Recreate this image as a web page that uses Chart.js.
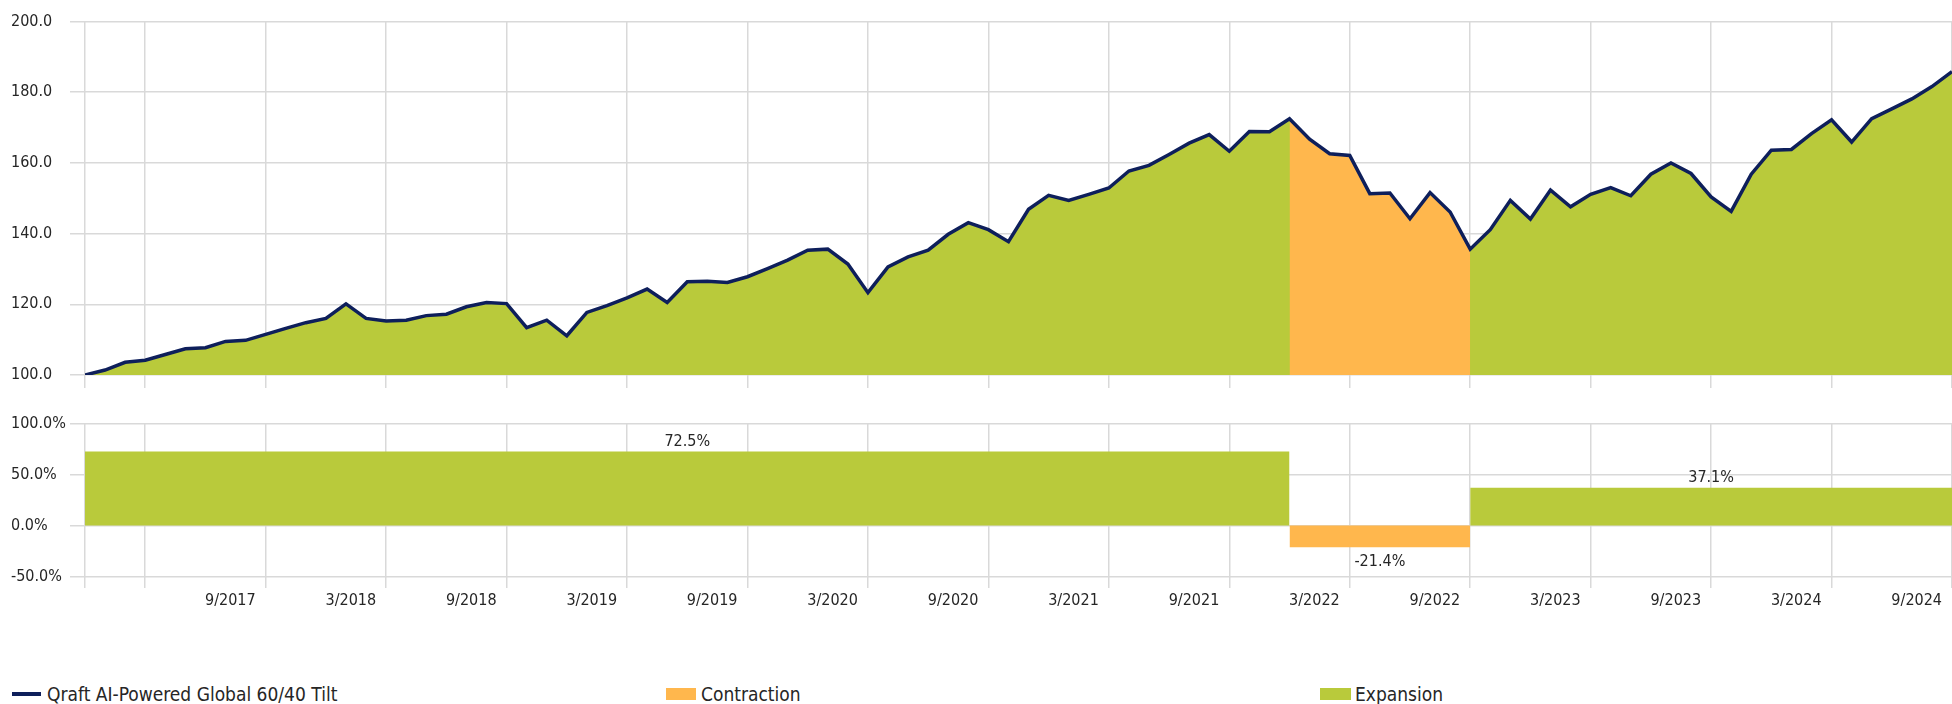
<!DOCTYPE html>
<html>
<head>
<meta charset="utf-8">
<title>Qraft AI-Powered Global 60/40 Tilt</title>
<script src="https://cdn.jsdelivr.net/npm/chart.js@4.4.1/dist/chart.umd.min.js"></script>
<style>
    html, body { margin: 0; padding: 0; background: #fff; }
    #page {
        position: relative; width: 1952px; height: 704px; overflow: hidden;
        font-family: 'DejaVu Sans Condensed', 'Liberation Sans Narrow', sans-serif; color: #262626;
    }
    #topChart { position: absolute; left: 0; top: 0; }
    #bottomChart { position: absolute; left: 0; top: 400px; }
    .legend-item {
        position: absolute; top: 683px; height: 22px; line-height: 22px; font-size: 19px;
        white-space: nowrap; display: flex; align-items: center;
    }
    .swatch { display: inline-block; }
</style>
</head>
<body>
<div id="page">
    <canvas id="topChart" width="1952" height="400"></canvas>
    <canvas id="bottomChart" width="1952" height="230"></canvas>
    <div id="legend"></div>
</div>
<script>
//! Les données.

const seriesName = 'Qraft AI-Powered Global 60/40 Tilt';
const firstMonth = '12/2016';

// Valeur mensuelle (base 100), de 12/2016 à 9/2024.
const indexValues = [
    100.0, 101.4, 103.6, 104.2, 105.8, 107.4, 107.7, 109.5, 109.8, 111.5,
    113.2, 114.8, 116.0, 120.1, 116.0, 115.3, 115.5, 116.8, 117.2, 119.3,
    120.5, 120.2, 113.4, 115.5, 111.1, 117.7, 119.6, 121.8, 124.3, 120.5,
    126.4, 126.5, 126.2, 127.8, 130.1, 132.5, 135.3, 135.6, 131.4, 123.3,
    130.6, 133.4, 135.3, 139.8, 143.1, 141.1, 137.7, 146.9, 150.8, 149.4,
    151.1, 152.9, 157.7, 159.3, 162.4, 165.6, 168.0, 163.3, 168.9, 168.8,
    172.5, 166.7, 162.6, 162.1, 151.3, 151.5, 144.2, 151.6, 146.1, 135.6,
    141.1, 149.4, 144.1, 152.3, 147.6, 151.1, 153.0, 150.7, 156.8, 160.0,
    157.0, 150.4, 146.3, 156.8, 163.6, 163.8, 168.3, 172.2, 165.9, 172.5,
    175.3, 178.1, 181.6, 185.8
];

const cycleTypes = ['Expansion', 'Contraction', 'Expansion'];
const cycleStarts = ['12/2016', '12/2021', '9/2022'];
const cycleEnds = ['12/2021', '9/2022', '9/2024'];
const cycleReturns = [72.5, -21.4, 37.1];

const xGridMonths = ['12/2016', '3/2017', '9/2017', '3/2018', '9/2018', '3/2019', '9/2019', '3/2020',
    '9/2020', '3/2021', '9/2021', '3/2022', '9/2022', '3/2023', '9/2023', '3/2024', '9/2024'];
const xTickLabels = ['9/2017', '3/2018', '9/2018', '3/2019', '9/2019', '3/2020', '9/2020', '3/2021',
    '9/2021', '3/2022', '9/2022', '3/2023', '9/2023', '3/2024', '9/2024'];

const topTicks = [100, 120, 140, 160, 180, 200];
const bottomTicks = [-50, 0, 50, 100];

//! --------------------------------------------------

//! Les styles.

const navy = '#0e1f5b';
const cycleColors = { Expansion: '#b9ca3b', Contraction: '#ffb74d' };
const gridColor = '#d9d9d9';
const textColor = '#262626';
const fontFamily = "'DejaVu Sans Condensed', 'Liberation Sans Narrow', sans-serif";

Chart.defaults.font.family = fontFamily;
Chart.defaults.color = textColor;

//! --------------------------------------------------

//? Index d'un mois depuis le premier mois.

const monthIndex = (label) => {
    const [m, y] = label.split('/').map(Number);
    const [m0, y0] = firstMonth.split('/').map(Number);
    return (y - y0) * 12 + (m - m0);
};

const lastIndex = indexValues.length - 1;
const gridIdx = xGridMonths.map(monthIndex);

const xScale = (showLabels, height, tickLength) => ({
    type: 'linear',
    min: 0,
    max: lastIndex,
    afterBuildTicks: (scale) => { scale.ticks = gridIdx.map((v) => ({ value: v })); },
    afterFit: (scale) => {
        scale.height = height;
        // Les étiquettes ne débordent pas : pas de marge à gauche ni à droite.
        scale.paddingLeft = 0;
        scale.paddingRight = 0;
    },
    grid: { color: gridColor, lineWidth: 1.5, drawTicks: true, tickLength: tickLength },
    border: { display: false },
    ticks: {
        display: showLabels,
        autoSkip: false,
        maxRotation: 0,
        minRotation: 0,
        align: 'end',
        labelOffset: -10,
        padding: 4.5,
        color: textColor,
        font: { size: 16, lineHeight: 1 },
        callback: (value) => {
            const label = xGridMonths[gridIdx.indexOf(value)];
            return xTickLabels.includes(label) ? label : '';
        },
    },
});

const yScale = (ticks, min, max, suffix) => ({
    min: min,
    max: max,
    afterBuildTicks: (scale) => { scale.ticks = ticks.map((v) => ({ value: v })); },
    afterFit: (scale) => { scale.width = 74; },
    grid: { color: gridColor, lineWidth: 1.5, drawTicks: true, tickLength: 15 },
    border: { display: false },
    ticks: {
        crossAlign: 'far',
        color: textColor,
        font: { size: 16 },
        callback: (value) => value.toFixed(1) + suffix,
    },
});

//? -------------------------------------------------

//? Construction du graphique de la valeur.

const constructionGraphiqueValeur = () => {
    try {
        const datasets = [{
            label: seriesName,
            data: indexValues.map((v, i) => ({ x: i, y: v })),
            borderColor: navy,
            borderWidth: 3.5,
            pointRadius: 0,
            fill: false,
            tension: 0,
        }];

        // Les contractions sont posées par-dessus le fond d'expansion.
        cycleTypes.forEach((type, c) => {
            if (type !== 'Contraction') return;
            const s = monthIndex(cycleStarts[c]);
            const e = monthIndex(cycleEnds[c]);
            datasets.push({
                label: type,
                data: indexValues.slice(s, e + 1).map((v, k) => ({ x: s + k, y: v })),
                borderColor: 'transparent',
                borderWidth: 0,
                backgroundColor: cycleColors[type],
                pointRadius: 0,
                fill: 'start',
            });
        });

        datasets.push({
            label: 'Expansion',
            data: indexValues.map((v, i) => ({ x: i, y: v })),
            borderColor: 'transparent',
            borderWidth: 0,
            backgroundColor: cycleColors.Expansion,
            pointRadius: 0,
            fill: 'start',
        });

        new Chart(document.getElementById('topChart'), {
            type: 'line',
            data: { datasets },
            options: {
                responsive: false,
                animation: false,
                layout: { padding: { top: 21.5, left: 11, right: 0, bottom: 0 } },
                plugins: { legend: { display: false }, tooltip: { enabled: false } },
                scales: {
                    x: xScale(false, 25, 13),
                    y: yScale(topTicks, 100, 200, ''),
                },
            },
        });

        console.log('🟢 SUCCESS 1/3 ==> Graphique valeur');
    } catch (error) {
        console.log('🔴 ERREUR 1/3 ==> Graphique valeur :', error);
    }
};

//? -------------------------------------------------

//? Construction du graphique des cycles.

const etiquettesCycles = {
    id: 'etiquettesCycles',
    afterDatasetsDraw(chart) {
        const { ctx, scales: { x, y } } = chart;
        ctx.save();
        ctx.font = '16px ' + fontFamily;
        ctx.fillStyle = textColor;
        ctx.textAlign = 'center';
        ctx.textBaseline = 'alphabetic';
        cycleReturns.forEach((r, c) => {
            const cx = (x.getPixelForValue(monthIndex(cycleStarts[c])) + x.getPixelForValue(monthIndex(cycleEnds[c]))) / 2;
            const py = y.getPixelForValue(r);
            const label = r.toFixed(1) + '%';
            ctx.fillText(label, cx, r >= 0 ? py - 6 : py + 19);
        });
        ctx.restore();
    },
};

const constructionGraphiqueCycles = () => {
    try {
        const datasets = cycleTypes.map((type, c) => ({
            label: type,
            data: [
                { x: monthIndex(cycleStarts[c]), y: cycleReturns[c] },
                { x: monthIndex(cycleEnds[c]), y: cycleReturns[c] },
            ],
            borderColor: 'transparent',
            borderWidth: 0,
            backgroundColor: cycleColors[type],
            pointRadius: 0,
            fill: 'origin',
        }));

        new Chart(document.getElementById('bottomChart'), {
            type: 'line',
            data: { datasets },
            options: {
                responsive: false,
                animation: false,
                layout: { padding: { top: 23.5, left: 11, right: 0, bottom: 0 } },
                plugins: { legend: { display: false }, tooltip: { enabled: false } },
                scales: {
                    x: xScale(true, 53.5, 11.5),
                    y: yScale(bottomTicks, -50, 100, '%'),
                },
            },
            plugins: [etiquettesCycles],
        });

        console.log('🟢 SUCCESS 2/3 ==> Graphique cycles');
    } catch (error) {
        console.log('🔴 ERREUR 2/3 ==> Graphique cycles :', error);
    }
};

//? -------------------------------------------------

//? Légende.

const construireLegende = () => {
    const items = [
        { name: seriesName, left: 12, swatch: 'width:29px;height:4px;margin-right:6px;background:' + navy },
        { name: 'Contraction', left: 666, swatch: 'width:30px;height:12px;margin-right:5px;background:' + cycleColors.Contraction },
        { name: 'Expansion', left: 1320, swatch: 'width:31px;height:12px;margin-right:4px;background:' + cycleColors.Expansion },
    ];
    const legend = document.getElementById('legend');
    items.forEach((item) => {
        const div = document.createElement('div');
        div.className = 'legend-item';
        div.style.left = item.left + 'px';
        const sw = document.createElement('span');
        sw.className = 'swatch';
        sw.style.cssText = item.swatch;
        const txt = document.createElement('span');
        txt.textContent = item.name;
        div.appendChild(sw);
        div.appendChild(txt);
        legend.appendChild(div);
    });
    console.log('🟢 SUCCESS 3/3 ==> Légende');
};

//! --------------------------------------------------

constructionGraphiqueValeur();
constructionGraphiqueCycles();
construireLegende();
</script>
</body>
</html>
